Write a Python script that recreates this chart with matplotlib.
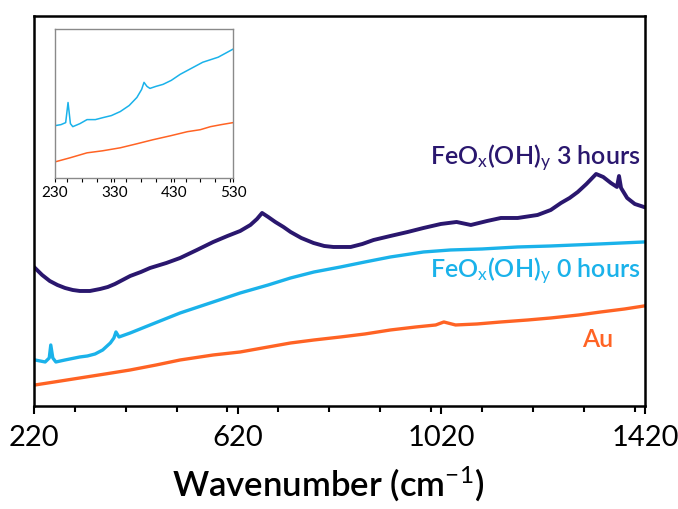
import matplotlib.pyplot as plt
from matplotlib.ticker import MultipleLocator, FixedLocator

plt.rcParams['font.family'] = ['Lato', 'DejaVu Sans']
plt.rcParams['mathtext.fontset'] = 'custom'
plt.rcParams['mathtext.rm'] = 'Lato'
plt.rcParams['mathtext.it'] = 'Lato'
plt.rcParams['mathtext.bf'] = 'Lato:bold'

# main spectra (wavenumber, arbitrary intensity)
wn_3h = [222, 236, 251, 266, 281, 296, 310, 330, 350, 365, 379, 394, 409, 430, 448,
         480, 507, 540, 572, 600, 625, 645, 658, 668, 680, 694, 710, 724, 745, 769,
         790, 808, 842, 865, 887, 920, 954, 985, 1019, 1050, 1078, 1110, 1137, 1170,
         1209, 1235, 1255, 1272, 1288, 1305, 1324, 1338, 1353, 1365, 1369, 1373,
         1385, 1400, 1418]
int_3h = [138, 131, 125, 121, 118, 116, 115, 115, 117, 119, 122, 126, 130, 134, 138,
          143, 148, 156, 164, 170, 175, 181, 187, 193, 189, 184, 179, 174, 168, 163,
          160, 159, 159, 162, 166, 170, 174, 178, 182, 184, 181, 185, 188, 188,
          191, 196, 203, 208, 214, 222, 232, 229, 223, 219, 230, 218,
          208, 202, 199]

wn_0h = [222, 242, 250, 253, 257, 263, 281, 310, 325, 340, 355, 370, 377, 381, 387,
         409, 448, 507, 572, 625, 680, 724, 770, 822, 870, 920, 985, 1038, 1100,
         1170, 1235, 1330, 1418]
int_0h = [46, 44, 48, 61, 48, 44, 46, 49, 50, 52, 56, 63, 68, 74, 69,
          73, 81, 93, 104, 113, 121, 128, 134, 139, 144, 149, 154, 156, 157,
          159, 160, 162, 164]

wn_au = [222, 260, 310, 360, 409, 460, 507, 572, 625, 680, 724, 770, 822, 870, 920,
         970, 1009, 1025, 1048, 1090, 1137, 1190, 1235, 1290, 1333, 1380, 1418]
int_au = [21, 24, 28, 32, 36, 41, 46, 51, 54, 59, 63, 66, 69, 72, 76,
          79, 81, 84, 81, 82, 84, 86, 88, 91, 94, 97, 100]

# inset (low wavenumber region)
wn_in_0h = [230, 240, 248, 252, 256, 260, 272, 284, 298, 311, 325, 340, 355, 368,
            376, 380, 385, 390, 400, 412, 426, 441, 460, 479, 505, 530]
int_in_0h = [52, 53, 55, 75, 54, 51, 54, 58, 58, 60, 62, 66, 72, 80,
             88, 95, 91, 89, 91, 93, 97, 103, 109, 115, 120, 128]
wn_in_au = [230, 255, 284, 310, 340, 368, 395, 425, 453, 475, 492, 510, 530]
int_in_au = [16, 20, 25, 27, 30, 34, 38, 42, 46, 48, 51, 53, 55]

c_3h = '#2A176E'
c_0h = '#1AB2EA'
c_au = '#FF6324'

fig = plt.figure(figsize=(6.78, 5.09), dpi=100)
ax = fig.add_axes([0.0501, 0.2024, 0.9012, 0.7662])

ax.plot(wn_3h, int_3h, color=c_3h, lw=2.8)
ax.plot(wn_0h, int_0h, color=c_0h, lw=2.4)
ax.plot(wn_au, int_au, color=c_au, lw=2.4)

ax.set_xlim(220, 1420)
ax.set_ylim(0, 390)
ax.set_yticks([])
ax.xaxis.set_major_locator(FixedLocator([220, 620, 1020, 1420]))
ax.xaxis.set_minor_locator(MultipleLocator(100))
ax.tick_params(axis='x', which='major', direction='out', length=6, width=1.5,
               labelsize=21, pad=8)
ax.tick_params(axis='x', which='minor', direction='out', length=4, width=1.5)
for s in ax.spines.values():
    s.set_linewidth(1.8)
ax.set_xlabel('Wavenumber (cm$^{-1}$)', fontsize=25, fontweight='semibold',
              labelpad=10)
ax.xaxis.set_label_coords(0.482, -0.15)

ax.text(1412, 241, 'FeO$_x$(OH)$_y$ 3 hours', color=c_3h, fontsize=18,
        fontweight='semibold', ha='right', va='baseline')
ax.text(1412, 128, 'FeO$_x$(OH)$_y$ 0 hours', color=c_0h, fontsize=18,
        fontweight='semibold', ha='right', va='baseline')
ax.text(1357, 59, 'Au', color=c_au, fontsize=18, fontweight='semibold',
        ha='right', va='baseline')

# inset
axi = fig.add_axes([0.0811, 0.6503, 0.2626, 0.2927])
axi.plot(wn_in_0h, int_in_0h, color=c_0h, lw=1.1)
axi.plot(wn_in_au, int_in_au, color=c_au, lw=1.1)
axi.set_xlim(230, 530)
axi.set_ylim(0, 148)
axi.set_yticks([])
axi.xaxis.set_major_locator(FixedLocator([230, 330, 430, 530]))
axi.xaxis.set_minor_locator(MultipleLocator(25))
axi.tick_params(axis='x', which='both', direction='out', length=3, width=0.8,
                labelsize=11, pad=3)
for s in axi.spines.values():
    s.set_color('#8a8a8a')
    s.set_linewidth(1.0)

fig.savefig('out.png', dpi=100)
